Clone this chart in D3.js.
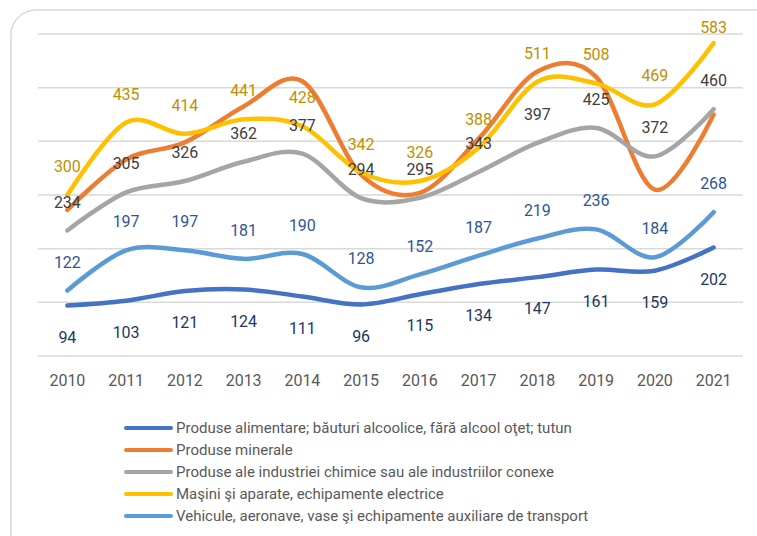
<!DOCTYPE html>
<html>
<head>
<meta charset="utf-8">
<script src="https://cdn.jsdelivr.net/npm/d3@7"></script>
<style>
  html, body { margin: 0; padding: 0; background: #fff; }
  svg { display: block; }
  text { font-family: Roboto, "Noto Sans", sans-serif; }
</style>
</head>
<body>
<svg id="chart" width="757" height="536"></svg>
<script>
const years = ["2010","2011","2012","2013","2014","2015","2016","2017","2018","2019","2020","2021"];
const yTicks = [0, 100, 200, 300, 400, 500, 600];

const seriesNames = [
  "Produse alimentare; băuturi alcoolice, fără alcool oţet; tutun",
  "Produse minerale",
  "Produse ale industriei chimice sau ale industriilor conexe",
  "Maşini şi aparate, echipamente electrice",
  "Vehicule, aeronave, vase şi echipamente auxiliare de transport"
];
const alimentare = [94, 103, 121, 124, 111, 96, 115, 134, 147, 161, 159, 202];
const minerale   = [272, 366, 398, 465, 512, 338, 304, 405, 530, 520, 310, 450];
const chimice    = [234, 305, 326, 362, 377, 294, 295, 343, 397, 425, 372, 460];
const masini     = [300, 435, 414, 441, 428, 342, 326, 388, 511, 508, 469, 583];
const vehicule   = [122, 197, 197, 181, 190, 128, 152, 187, 219, 236, 184, 268];

const lineColors  = ["#4472C4", "#ED7D31", "#A5A5A5", "#FFC000", "#5B9BD5"];
const labelColors = ["#203864", null, "#404040", "#BF9000", "#2F5597"];
const labelPos    = ["below", null, "above", "above", "above"];
const allSeries = [alimentare, minerale, chimice, masini, vehicule];

const svg = d3.select("#chart");

// outer rounded border
svg.append("rect")
  .attr("x", 11).attr("y", 10)
  .attr("width", 770).attr("height", 560)
  .attr("rx", 25).attr("ry", 25)
  .attr("fill", "none").attr("stroke", "#d9d9d9").attr("stroke-width", 1.5);

const margin = { left: 38, right: 757 - 743, top: 34, bottom: 536 - 356 };
const x = d3.scaleBand().domain(years).range([38, 743]);
const y = d3.scaleLinear().domain([0, 600]).range([356, 34]);

// gridlines
svg.append("g").selectAll("line").data(yTicks).join("line")
  .attr("x1", 38).attr("x2", 743)
  .attr("y1", d => y(d)).attr("y2", d => y(d))
  .attr("stroke", "#d9d9d9").attr("stroke-width", 1.5);

// x axis labels
const xAxis = d3.axisBottom(x).tickSize(0).tickPadding(0);
const gx = svg.append("g").attr("transform", "translate(0,356)").call(xAxis);
gx.select(".domain").remove();
gx.selectAll("text")
  .attr("y", 24).attr("dy", "0.35em")
  .attr("fill", "#595959")
  .style("font-size", "16px")
  .style("font-family", "Roboto, 'Noto Sans', sans-serif");

const cx = d => x(d) + x.bandwidth() / 2;
const line = d3.line()
  .x((d, i) => cx(years[i]))
  .y(d => y(d))
  .curve(d3.curveCardinal.tension(0));

allSeries.forEach((vals, si) => {
  svg.append("path")
    .datum(vals)
    .attr("d", line)
    .attr("fill", "none")
    .attr("stroke", lineColors[si])
    .attr("stroke-width", 4.5)
    .attr("stroke-linecap", "round")
    .attr("stroke-linejoin", "round");
});

// data labels
allSeries.forEach((vals, si) => {
  if (!labelColors[si]) return;
  svg.append("g").selectAll("text").data(vals).join("text")
    .attr("x", (d, i) => cx(years[i]))
    .attr("y", d => {
      const ly = labelPos[si] === "above" ? y(d) - 28.5 : y(d) + 31.5;
      return Math.max(ly, 27);
    })
    .attr("dy", "0.35em")
    .attr("text-anchor", "middle")
    .attr("fill", labelColors[si])
    .style("font-size", "16px")
    .text(d => d);
});

// legend
const lg = svg.append("g");
seriesNames.forEach((name, si) => {
  const ly = 428 + si * 22;
  lg.append("line")
    .attr("x1", 126).attr("x2", 171)
    .attr("y1", ly).attr("y2", ly)
    .attr("stroke", lineColors[si]).attr("stroke-width", 4)
    .attr("stroke-linecap", "round");
  lg.append("text")
    .attr("x", 176).attr("y", ly).attr("dy", "0.35em")
    .attr("fill", "#595959")
    .style("font-size", "15px")
    .text(name);
});
</script>
</body>
</html>
